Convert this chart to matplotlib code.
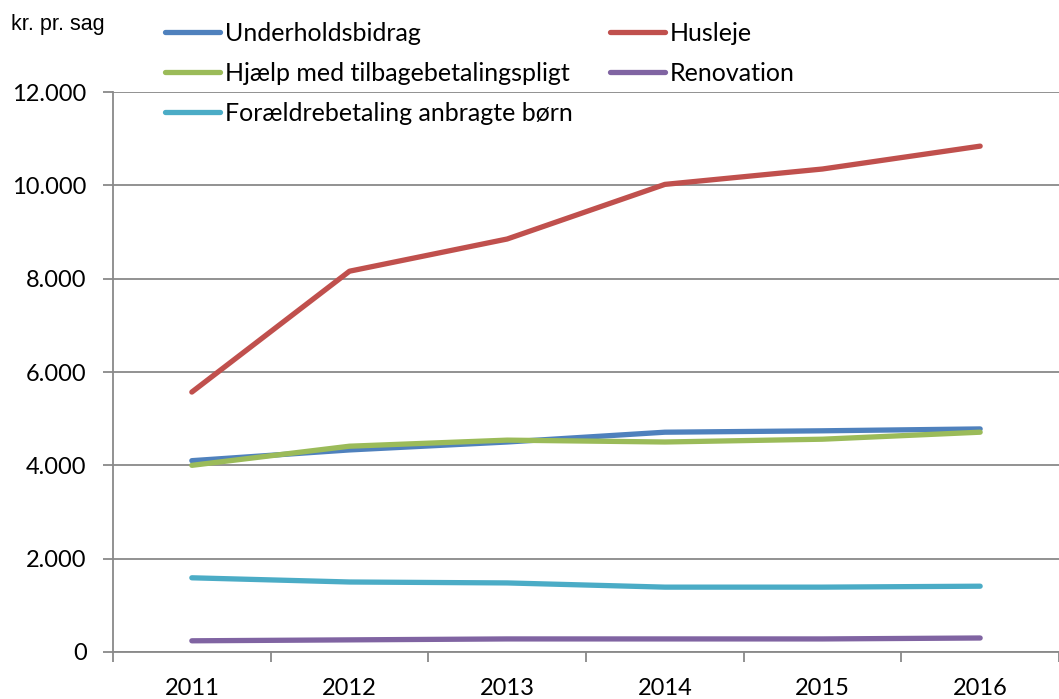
import numpy as np
from matplotlib import pyplot as plt

years = ["2011", "2012", "2013", "2014", "2015", "2016"]

underholdsbidrag = [4100, 4330, 4500, 4710, 4740, 4780]
husleje = [5570, 8160, 8850, 10020, 10350, 10840]
hjaelp = [4000, 4410, 4540, 4500, 4560, 4710]
renovation = [240, 260, 280, 280, 280, 300]
foraeldre = [1590, 1500, 1480, 1390, 1390, 1410]

yticks = [0, 2000, 4000, 6000, 8000, 10000, 12000]
ylabels = ["0", "2.000", "4.000", "6.000", "8.000", "10.000", "12.000"]

plt.rcParams['font.family'] = ['Lato', 'DejaVu Sans']

fig = plt.figure(figsize=(10.59, 6.99), dpi=100)
ax = fig.add_axes([113 / 1059, 47 / 699, 946 / 1059, 560 / 699])

x = np.arange(len(years))
lw = 3.8
l_u, = ax.plot(x, underholdsbidrag, color='#4F81BD', lw=lw, label='Underholdsbidrag', solid_capstyle='round')
l_h, = ax.plot(x, husleje, color='#C0504D', lw=lw, label='Husleje', solid_capstyle='round')
l_g, = ax.plot(x, hjaelp, color='#9BBB59', lw=lw, label='Hjælp med tilbagebetalingspligt', solid_capstyle='round')
l_r, = ax.plot(x, renovation, color='#8064A2', lw=lw, label='Renovation', solid_capstyle='round')
l_f, = ax.plot(x, foraeldre, color='#4BACC6', lw=lw, label='Forældrebetaling anbragte børn', solid_capstyle='round')

ax.set_xlim(-0.5, 5.446)
ax.set_ylim(0, 12000)

ax.set_yticks(yticks)
ax.set_yticklabels(ylabels)
ax.yaxis.grid(True, color='#898989', lw=1.3)
ax.set_axisbelow(True)

ax.set_xticks(x)
ax.set_xticklabels(years)
ax.set_xticks(np.arange(-0.5, 6, 1), minor=True)
ax.tick_params(axis='x', which='major', length=0, pad=19, labelsize=17)
ax.tick_params(axis='x', which='minor', length=7, width=1.3, color='#898989')
ax.tick_params(axis='y', length=7, width=1.3, color='#898989', pad=12, labelsize=17)

for s in ['top', 'right']:
    ax.spines[s].set_visible(False)
for s in ['left', 'bottom']:
    ax.spines[s].set_color('#898989')
    ax.spines[s].set_linewidth(1.3)

handles = [l_u, l_g, l_f, l_h, l_r]
fig.legend(handles=handles, labels=[h.get_label() for h in handles], ncol=2,
           loc='upper left', bbox_to_anchor=(155 / 1059, 1 - 12 / 699),
           frameon=False, fontsize=18, handlelength=2.2, handletextpad=0.2,
           columnspacing=1.5, labelspacing=0.68, borderaxespad=0)

fig.text(11 / 1059, 1 - 30 / 699, "kr. pr. sag", fontsize=15.5,
         family=['Liberation Sans', 'DejaVu Sans'])

fig.savefig("out.png", dpi=100)
